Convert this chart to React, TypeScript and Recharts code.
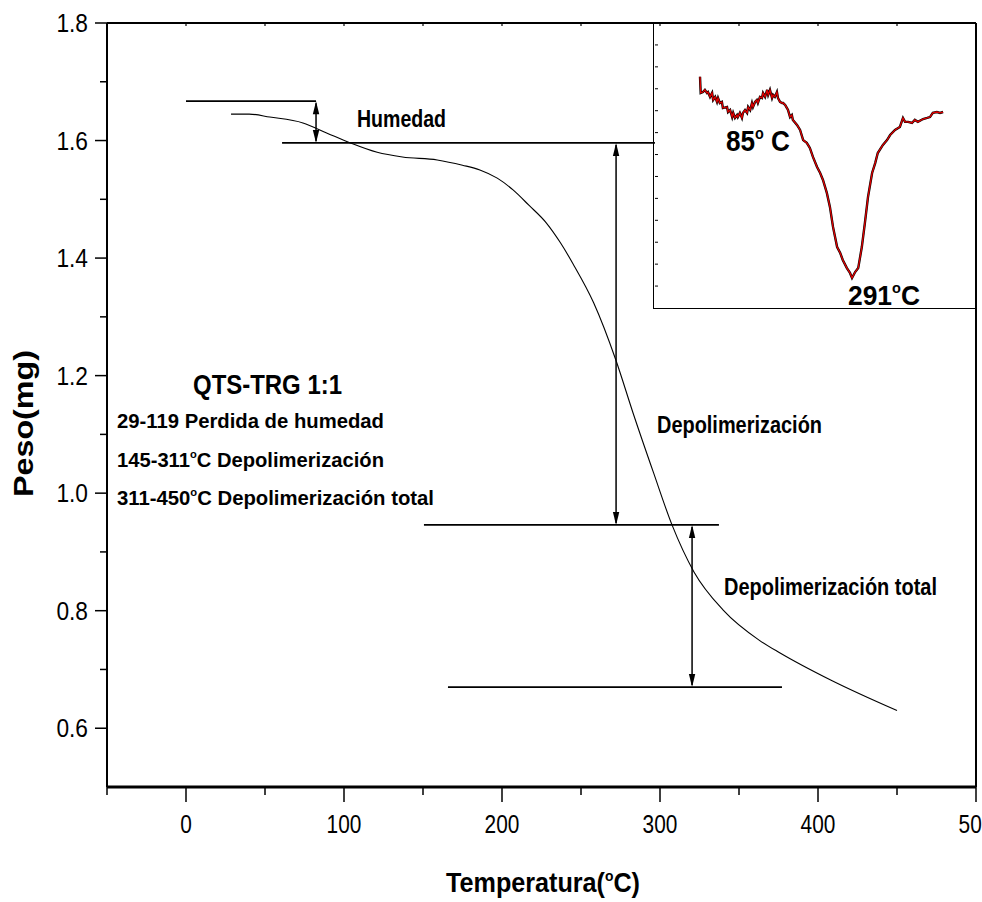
import React from "react";
import { LineChart, Line, XAxis, YAxis, ReferenceLine } from "recharts";

// TGA curve (weight in mg vs temperature in C)
const TEMP = [28.5, 40, 53, 74, 89, 104, 121, 137, 159, 175, 186, 197, 207, 217, 228, 237, 245, 258, 272, 283, 296, 307.6, 321.5, 340, 362.7, 376, 408, 450];
const PESO = [1.645, 1.645, 1.64, 1.63, 1.613, 1.596, 1.58, 1.572, 1.567, 1.558, 1.55, 1.536, 1.516, 1.49, 1.46, 1.426, 1.39, 1.324, 1.227, 1.136, 1.034, 0.946, 0.866, 0.801, 0.75, 0.728, 0.682, 0.63];

// DTG inset (arbitrary units)
const DTG_TEMP = [2.5, 3.8, 8.3, 12, 16, 18, 22, 26, 28, 32, 35.5, 37.5, 41, 45, 47, 55, 57, 61, 65, 67, 70.5, 74.5, 76, 80, 84, 86, 90, 94, 96, 100, 103.5, 105.5, 109.5, 113, 115, 119, 123, 125, 129, 133, 135, 138.5, 142.5, 144.5, 148, 152, 154, 158, 162, 164, 168, 171.5, 173.5, 177.5, 181, 183, 191, 197, 203, 210, 216, 222, 230, 236, 241.5, 249, 255, 261, 269, 275, 280, 288, 294, 298, 304, 310, 317, 323, 329, 337, 343, 348, 358, 366, 372, 381.5, 391, 397, 401, 407, 414.5, 420, 426, 436, 444, 449.5, 455, 463, 469, 475];
const DTG_VAL = [10.55, 9.81, 9.85, 9.95, 9.81, 9.85, 9.63, 9.81, 9.49, 9.63, 9.4, 9.58, 9.35, 9.4, 9.12, 9.17, 8.94, 9.03, 8.71, 8.9, 8.67, 8.8, 8.71, 8.9, 8.67, 8.9, 9.03, 8.9, 9.17, 9.03, 9.35, 9.17, 9.4, 9.49, 9.35, 9.63, 9.58, 9.81, 9.63, 9.95, 9.72, 9.95, 9.58, 9.72, 9.63, 9.85, 9.58, 9.4, 9.35, 9.35, 9.26, 9.12, 9.03, 8.71, 8.8, 8.58, 8.35, 8.12, 7.66, 7.53, 7.3, 6.89, 6.43, 6.16, 5.84, 5.25, 4.61, 3.7, 2.78, 2.51, 2.19, 1.82, 1.6, 1.37, 1.64, 1.82, 2.78, 3.88, 5.06, 6.16, 6.61, 7.07, 7.44, 7.66, 7.89, 8.12, 8.26, 8.67, 8.49, 8.49, 8.44, 8.58, 8.49, 8.62, 8.67, 8.71, 8.9, 8.94, 8.9, 8.94];

const X_TICKS = [-50, 0, 50, 100, 150, 200, 250, 300, 350, 400, 450, 500];
const Y_TICKS = [0.6, 0.7, 0.8, 0.9, 1.0, 1.1, 1.2, 1.3, 1.4, 1.5, 1.6, 1.7, 1.8];
const INSET_TICKS = [1, 2, 3, 4, 5, 6, 7, 8, 9, 10, 11, 12];

// guide lines: [t1, t2, y]
const H_LINES = [
  [0, 82.3, 1.667],
  [60.8, 296.8, 1.596],
  [150.6, 337.3, 0.946],
  [165.8, 377.2, 0.67],
];
// double arrows: [t, yTop, yBottom]
const ARROWS = [
  [82.3, 1.667, 1.596],
  [272.2, 1.596, 0.946],
  [320.3, 0.946, 0.67],
];

const tga = TEMP.map((t, i) => ({ t, w: PESO[i] }));
const dtg = DTG_TEMP.map((t, i) => ({ t, v: DTG_VAL[i] }));

const TICK_FONT = "'Liberation Sans Narrow', 'Arial Narrow', 'Liberation Sans', Arial, sans-serif";
const TEXT_FONT = "'Liberation Sans', Arial, sans-serif";

const labelWidth = (s: string) =>
  s.split("").reduce((acc, c) => acc + (c === "." ? 8.4 : 11.6), 0);

const renderXTick = (props: any) => {
  const { x, y, payload } = props;
  const v = payload.value;
  const major = v % 100 === 0;
  const s = String(v);
  return (
    <g>
      <line x1={x} y1={y} x2={x} y2={y + (major ? 15 : 8)} stroke="#000" strokeWidth={1.5} />
      {major && (
        <text x={x} y={y + 46} textAnchor="middle" fontSize={25} fontFamily={TICK_FONT}
          textLength={labelWidth(s)} lengthAdjust="spacingAndGlyphs" fill="#000">
          {s}
        </text>
      )}
    </g>
  );
};

const renderTopTick = (props: any) => {
  const { x, y } = props;
  return <line x1={x} y1={y} x2={x} y2={y + 3} stroke="#000" strokeWidth={1.2} />;
};

const renderYTick = (props: any) => {
  const { x, y, payload } = props;
  const v = payload.value;
  const major = Math.round(v * 10) % 2 === 0;
  const s = v.toFixed(1);
  return (
    <g>
      <line x1={x - (major ? 12 : 7)} y1={y} x2={x} y2={y} stroke="#000" strokeWidth={1.5} />
      {major && (
        <text x={x - 19} y={y + 9} textAnchor="end" fontSize={25} fontFamily={TICK_FONT}
          textLength={labelWidth(s)} lengthAdjust="spacingAndGlyphs" fill="#000">
          {s}
        </text>
      )}
    </g>
  );
};

const renderRightTick = (props: any) => {
  const { x, y } = props;
  return <line x1={x} y1={y} x2={x + 3} y2={y} stroke="#000" strokeWidth={1.2} />;
};

const renderInsetTick = (props: any) => {
  const { x, y } = props;
  return <line x1={x} y1={y} x2={x + 3} y2={y} stroke="#000" strokeWidth={1} />;
};

const arrowShape = (props: any) => {
  const { x1, y1, y2 } = props;
  const top = Math.min(y1, y2);
  const bot = Math.max(y1, y2);
  const hl = 13;
  const hw = 3.2;
  return (
    <g>
      <line x1={x1} y1={top + 2} x2={x1} y2={bot - 2} stroke="#000" strokeWidth={1.5} />
      <polygon points={`${x1},${top} ${x1 - hw},${top + hl} ${x1 + hw},${top + hl}`} fill="#000" />
      <polygon points={`${x1},${bot} ${x1 - hw},${bot - hl} ${x1 + hw},${bot - hl}`} fill="#000" />
    </g>
  );
};

const Deg = ({ size }: { size: number }) => (
  <tspan fontSize={size * 0.55} dy={-size * 0.42}>o</tspan>
);

const Inset = () => (
  <div
    style={{
      position: "absolute",
      left: 653,
      top: 23,
      width: 323,
      height: 286,
      background: "#fff",
      borderLeft: "1.5px solid #000",
      borderBottom: "1.5px solid #000",
      boxSizing: "border-box",
      zIndex: 0,
    }}
  >
    <LineChart width={321} height={285} data={dtg} margin={{ top: 0, right: 0, bottom: 0, left: 0 }}>
      <XAxis dataKey="t" type="number" domain={[-85, 537]} hide />
      <YAxis type="number" domain={[0, 13]} ticks={INSET_TICKS} width={1} axisLine={false}
        tickLine={false} tickSize={0} tickMargin={0} tick={renderInsetTick} interval={0} />
      <Line dataKey="v" type="linear" stroke="#000" strokeWidth={2.4} dot={false} isAnimationActive={false} />
      <Line dataKey="v" type="linear" stroke="#e00000" strokeWidth={1.3} dot={false} isAnimationActive={false} />
    </LineChart>
  </div>
);

export default function App() {
  return (
    <div style={{ position: "absolute", left: 0, top: 0, width: 982, height: 902, background: "#fff", overflow: "hidden" }}>
      <Inset />
      <div style={{ position: "absolute", left: 0, top: 0, zIndex: 1 }}>
        <LineChart width={982} height={902} data={tga} margin={{ top: 22, right: 5, bottom: 114, left: 106 }}>
          <XAxis xAxisId="b" dataKey="t" type="number" domain={[-50, 500]} ticks={X_TICKS} interval={0}
            height={1} tickSize={0} tickMargin={0} tickLine={false}
            axisLine={{ stroke: "#000", strokeWidth: 3 }} tick={renderXTick} />
          <XAxis xAxisId="t" orientation="top" dataKey="t" type="number" domain={[-50, 500]} ticks={X_TICKS}
            interval={0} height={1} tickSize={0} tickMargin={0} tickLine={false}
            axisLine={{ stroke: "#000", strokeWidth: 2 }} tick={renderTopTick} />
          <YAxis yAxisId="l" type="number" domain={[0.5, 1.8]} ticks={Y_TICKS} interval={0}
            width={1} tickSize={0} tickMargin={0} tickLine={false}
            axisLine={{ stroke: "#000", strokeWidth: 2 }} tick={renderYTick} />
          <YAxis yAxisId="r" orientation="right" type="number" domain={[0.5, 1.8]} ticks={Y_TICKS} interval={0}
            width={1} tickSize={0} tickMargin={0} tickLine={false}
            axisLine={{ stroke: "#000", strokeWidth: 2 }} tick={renderRightTick} />
          {H_LINES.map(([a, b, y], i) => (
            <ReferenceLine key={`h${i}`} xAxisId="b" yAxisId="l"
              segment={[{ x: a, y }, { x: b, y }]} stroke="#000" strokeWidth={1.8} />
          ))}
          {ARROWS.map(([t, y1, y2], i) => (
            <ReferenceLine key={`a${i}`} xAxisId="b" yAxisId="l"
              segment={[{ x: t, y: y1 }, { x: t, y: y2 }]} shape={arrowShape} />
          ))}
          <Line xAxisId="b" yAxisId="l" dataKey="w" type="monotone" stroke="#000" strokeWidth={1.1}
            dot={false} isAnimationActive={false} />
        </LineChart>
      </div>
      <svg width={982} height={902} style={{ position: "absolute", left: 0, top: 0, zIndex: 2, pointerEvents: "none" }}
        fontFamily={TEXT_FONT} fontWeight="bold" fill="#000">
        <text x={357} y={127} fontSize={23} textLength={89} lengthAdjust="spacingAndGlyphs">Humedad</text>
        <text x={657} y={433} fontSize={23} textLength={165} lengthAdjust="spacingAndGlyphs">Depolimerización</text>
        <text x={724} y={595} fontSize={23} textLength={213} lengthAdjust="spacingAndGlyphs">Depolimerización total</text>
        <text x={193} y={394} fontSize={28} textLength={149} lengthAdjust="spacingAndGlyphs">QTS-TRG 1:1</text>
        <text x={117} y={428} fontSize={21} textLength={267} lengthAdjust="spacingAndGlyphs">29-119 Perdida de humedad</text>
        <text x={117} y={467} fontSize={21} textLength={267} lengthAdjust="spacingAndGlyphs">
          145-311<Deg size={21} /><tspan dy={21 * 0.42}>C Depolimerización</tspan>
        </text>
        <text x={117} y={505} fontSize={21} textLength={317} lengthAdjust="spacingAndGlyphs">
          311-450<Deg size={21} /><tspan dy={21 * 0.42}>C Depolimerización total</tspan>
        </text>
        <text x={726} y={151} fontSize={29} textLength={64} lengthAdjust="spacingAndGlyphs">
          85<Deg size={29} /><tspan dy={29 * 0.42}> C</tspan>
        </text>
        <text x={848} y={305} fontSize={28} textLength={72} lengthAdjust="spacingAndGlyphs">
          291<Deg size={28} /><tspan dy={28 * 0.42}>C</tspan>
        </text>
        <text x={446} y={892} fontSize={27} textLength={194} lengthAdjust="spacingAndGlyphs">
          Temperatura(<Deg size={27} /><tspan dy={27 * 0.42}>C)</tspan>
        </text>
        <text x={33} y={497} fontSize={28} textLength={147} lengthAdjust="spacingAndGlyphs"
          transform="rotate(-90 33 497)">Peso(mg)</text>
      </svg>
    </div>
  );
}
